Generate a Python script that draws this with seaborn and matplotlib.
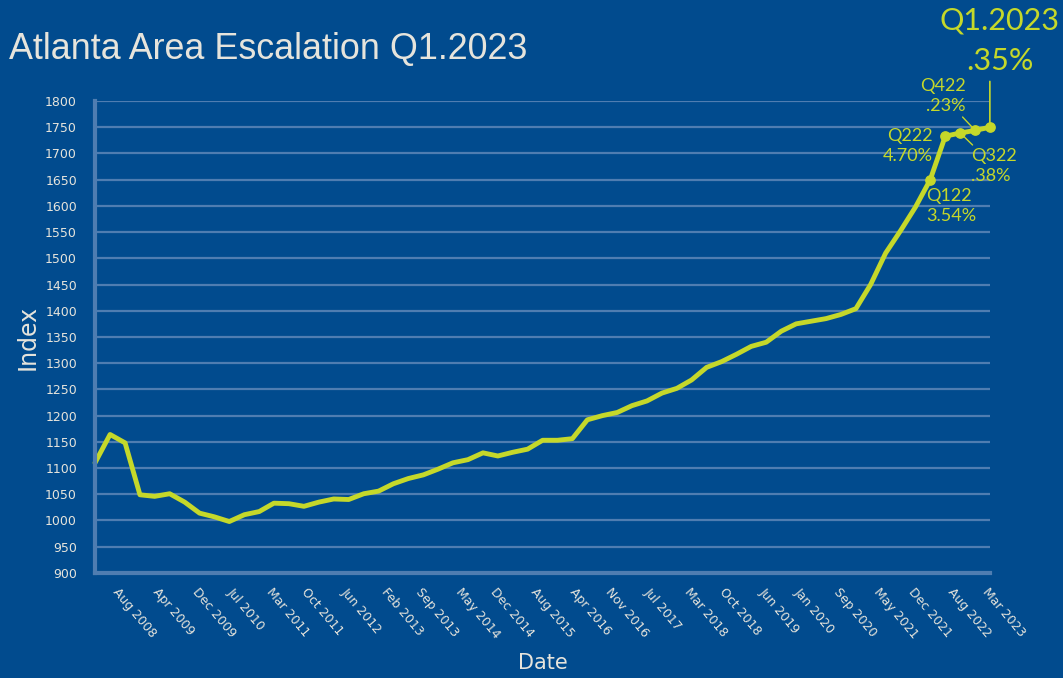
import pandas as pd
import matplotlib
matplotlib.use('Agg')
import matplotlib.pyplot as plt
import seaborn as sns

# Quarterly index values, Mar 2008 .. Mar 2023
dates = pd.date_range('2008-03-01', '2023-03-01', freq='3MS')
index_values = [
    1110, 1164, 1148, 1049, 1046, 1051, 1035, 1014, 1007, 998,
    1011, 1017, 1033, 1032, 1027, 1035, 1041, 1040, 1051, 1056,
    1070, 1080, 1087, 1098, 1110, 1116, 1129, 1123, 1130, 1136,
    1153, 1153, 1156, 1192, 1200, 1206, 1219, 1228, 1243, 1252,
    1268, 1292, 1303, 1317, 1332, 1340, 1361, 1375, 1380, 1385,
    1393, 1404, 1450, 1510, 1553, 1598, 1650, 1733, 1739, 1744,
    1750,
]

tick_labels = ['Aug 2008', 'Apr 2009', 'Dec 2009', 'Jul 2010', 'Mar 2011', 'Oct 2011',
               'Jun 2012', 'Feb 2013', 'Sep 2013', 'May 2014', 'Dec 2014', 'Aug 2015',
               'Apr 2016', 'Nov 2016', 'Jul 2017', 'Mar 2018', 'Oct 2018', 'Jun 2019',
               'Jan 2020', 'Sep 2020', 'May 2021', 'Dec 2021', 'Aug 2022', 'Mar 2023']

# labelled quarters: (label, change, point index, text offset in points, ha, va)
callouts = [
    ('Q122', '3.54%', 56, (-3, -6), 'left', 'top'),
    ('Q222', '4.70%', 57, (-9, -7), 'right', 'center'),
    ('Q322', '.38%', 58, (8, -11), 'left', 'top'),
    ('Q422', '.23%', 59, (-7, 12), 'right', 'bottom'),
]
last_label = 'Q1.2023'
last_change = '.35%'

df = pd.DataFrame({'Date': dates, 'Index': index_values})

bg = '#014b8e'
lime = '#c5d82a'
txt = '#e6e4dc'

sns.set_style('dark')
plt.rcParams['font.family'] = ['DejaVu Sans']

fig = plt.figure(figsize=(10.63, 6.78), dpi=100, facecolor=bg)
ax = fig.add_axes([0.0894, 0.155, 0.8418, 0.696])
ax.set_facecolor(bg)

sns.lineplot(data=df, x='Date', y='Index', ax=ax, color=lime, linewidth=3.5, clip_on=False)

# dots on the last five quarters
sub = df.iloc[56:]
ax.scatter(sub['Date'], sub['Index'], color=lime, s=45, zorder=5, clip_on=False)

ax.set_ylim(900, 1800)
ax.set_yticks(range(900, 1801, 50))
ax.set_xlim(dates[0], dates[-1])
tick_dates = pd.to_datetime(tick_labels, format='%b %Y')
ax.set_xticks(tick_dates)
ax.set_xticklabels(tick_labels, rotation=-50, ha='left', va='top', rotation_mode='anchor')

ax.grid(axis='y', color='#4f7db1', linewidth=1.6)
ax.grid(axis='x', visible=False)
for s in ['top', 'right']:
    ax.spines[s].set_visible(False)
for s in ['left', 'bottom']:
    ax.spines[s].set_color('#4f7db1')
    ax.spines[s].set_linewidth(3)
ax.tick_params(axis='both', colors=txt, labelsize=9, length=0)
ax.tick_params(axis='x', pad=9)
ax.tick_params(axis='y', pad=13)

ax.set_xlabel('Date', color=txt, fontsize=15, labelpad=9)
ax.set_ylabel('Index', color=txt, fontsize=17, labelpad=4)

fig.text(0.008, 0.927, 'Atlanta Area Escalation Q1.2023', color=txt, fontsize=25.8,
         family='Liberation Sans', ha='left', va='center')

for lab, chg, i, off, ha, va in callouts:
    ax.annotate(f'{lab}\n{chg}', xy=(dates[i], index_values[i]), xytext=off,
                textcoords='offset points', color=lime, fontsize=13, ha=ha, va=va,
                linespacing=1.3, family='Lato',
                arrowprops=dict(arrowstyle='-', color=lime, lw=1, shrinkA=0, shrinkB=3)
                if lab in ('Q322', 'Q422') else None,
                annotation_clip=False)

# leader line straight up from the last point, then the two big labels
ax.annotate('', xy=(dates[-1], index_values[-1]), xytext=(0, 33),
            textcoords='offset points', annotation_clip=False,
            arrowprops=dict(arrowstyle='-', color=lime, lw=1.2, shrinkA=0, shrinkB=3))
ax.annotate(last_change, xy=(dates[-1], index_values[-1]), xytext=(7, 48),
            textcoords='offset points', color=lime, fontsize=22, ha='center', va='center',
            family='Lato', annotation_clip=False)
ax.annotate(last_label, xy=(dates[-1], index_values[-1]), xytext=(7, 77),
            textcoords='offset points', color=lime, fontsize=22, ha='center', va='center',
            family='Lato', annotation_clip=False)

fig.savefig('out.png', dpi=100, facecolor=bg)
